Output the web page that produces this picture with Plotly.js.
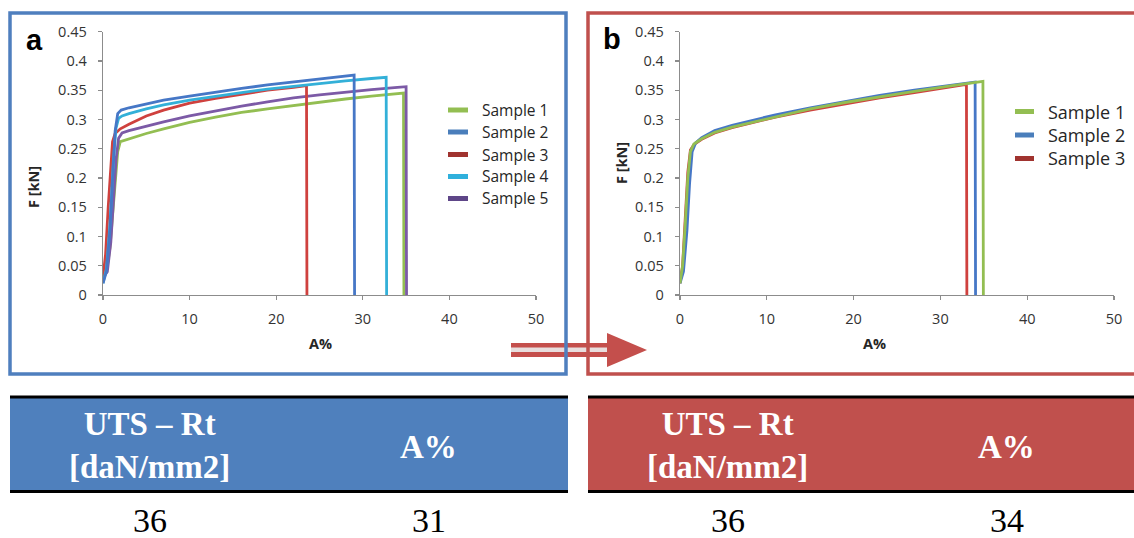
<!DOCTYPE html>
<html>
<head>
<meta charset="utf-8">
<script src="https://cdn.plot.ly/plotly-3.0.1.min.js"></script>
<style>
html,body{margin:0;padding:0;background:#fff;}
#chart{width:1134px;height:538px;}
</style>
</head>
<body>
<div id="chart"></div>
<script>
// ---------- DATA ----------
// Panel a (five samples): elongation A% and force F [kN]
const a_s1_A = [0, 0.4, 0.8, 1.1, 1.4, 1.7, 2.0, 3, 5, 7, 10, 13, 16, 19, 22, 25, 28, 31, 34, 34.7, 34.75];
const a_s1_F = [0.03, 0.04, 0.08, 0.14, 0.2, 0.245, 0.262, 0.267, 0.276, 0.284, 0.295, 0.304, 0.312, 0.318, 0.324, 0.330, 0.335, 0.340, 0.344, 0.345, 0];
const a_s2_A = [0, 0.4, 0.8, 1.1, 1.4, 1.7, 2.1, 3, 5, 7, 10, 13, 16, 19, 22, 25, 27, 28.5, 29.0, 29.05];
const a_s2_F = [0.02, 0.04, 0.11, 0.2, 0.28, 0.31, 0.316, 0.320, 0.327, 0.333, 0.340, 0.347, 0.353, 0.359, 0.364, 0.369, 0.373, 0.376, 0.376, 0];
const a_s3_A = [0, 0.3, 0.6, 0.9, 1.1, 1.4, 2, 3, 5, 7, 10, 13, 16, 19, 22, 23.5, 23.55];
const a_s3_F = [0.03, 0.07, 0.15, 0.23, 0.262, 0.276, 0.284, 0.292, 0.306, 0.316, 0.328, 0.336, 0.343, 0.350, 0.355, 0.358, 0];
const a_s4_A = [0, 0.4, 0.8, 1.2, 1.5, 1.8, 2.2, 3, 5, 7, 10, 13, 16, 19, 22, 25, 28, 31, 32.7, 32.75];
const a_s4_F = [0.02, 0.045, 0.12, 0.23, 0.285, 0.302, 0.306, 0.310, 0.318, 0.325, 0.333, 0.340, 0.346, 0.352, 0.357, 0.362, 0.366, 0.370, 0.372, 0];
const a_s5_A = [0, 0.5, 0.9, 1.2, 1.5, 1.8, 2.2, 3, 5, 7, 10, 13, 16, 19, 22, 25, 28, 31, 34, 35.0, 35.05];
const a_s5_F = [0.03, 0.04, 0.09, 0.16, 0.23, 0.268, 0.277, 0.281, 0.289, 0.296, 0.306, 0.315, 0.323, 0.330, 0.337, 0.342, 0.347, 0.351, 0.355, 0.356, 0];

// Panel b (three samples)
const b_s1_A = [0, 0.3, 0.6, 0.9, 1.2, 1.6, 2.5, 4, 6, 8, 11, 15, 19, 23, 27, 31, 33, 34.6, 34.9, 34.95];
const b_s1_F = [0.02, 0.05, 0.12, 0.2, 0.245, 0.258, 0.267, 0.278, 0.287, 0.294, 0.305, 0.318, 0.329, 0.339, 0.348, 0.357, 0.361, 0.365, 0.365, 0];
const b_s2_A = [0, 0.4, 0.8, 1.1, 1.4, 1.8, 2.5, 4, 6, 8, 11, 15, 19, 23, 27, 31, 33.5, 34.0, 34.05];
const b_s2_F = [0.02, 0.04, 0.11, 0.19, 0.245, 0.26, 0.269, 0.281, 0.290, 0.297, 0.308, 0.320, 0.331, 0.341, 0.350, 0.358, 0.364, 0.364, 0];
const b_s3_A = [0, 0.3, 0.6, 0.9, 1.2, 1.6, 2.5, 4, 6, 8, 11, 15, 19, 23, 27, 31, 33.0, 33.05];
const b_s3_F = [0.02, 0.05, 0.13, 0.21, 0.248, 0.257, 0.266, 0.277, 0.286, 0.293, 0.304, 0.316, 0.327, 0.337, 0.346, 0.355, 0.360, 0];

const a_names = ["Sample 1", "Sample 2", "Sample 3", "Sample 4", "Sample 5"];
const b_names = ["Sample 1", "Sample 2", "Sample 3"];

const xTickVals = [0, 10, 20, 30, 40, 50];
const xTickText = ["0", "10", "20", "30", "40", "50"];
const yTickVals = [0, 0.05, 0.1, 0.15, 0.2, 0.25, 0.3, 0.35, 0.4, 0.45];
const yTickText = ["0", "0.05", "0.1", "0.15", "0.2", "0.25", "0.3", "0.35", "0.4", "0.45"];

// Summary table
const tableHeaders = ["UTS – Rt<br>[daN/mm2]", "A%"];
const a_table = ["36", "31"];
const b_table = ["36", "34"];

// ---------- STYLE ----------
const W = 1134, H = 538;
const px = x => x / W;
const py = y => 1 - y / H;

const cGreen = "#93BE52", cBlue = "#4677C6", cRed = "#CF413E", cCyan = "#33B0D8", cPurple = "#7C5AA6";
const legA = ["#93BE52", "#4A7EBB", "#A0332F", "#2FB0DC", "#5E4688"];
const legB = ["#93BE52", "#4A7EBB", "#A0332F"];
const frameBlue = "#4F7FBE", frameRed = "#C0504D";
const tickFont = {family: "Open Sans, sans-serif", size: 14.5, color: "#333333"};

function tr(x, y, color, ax, ay, name) {
  return {x: x, y: y, type: "scatter", mode: "lines", name: name,
          line: {color: color, width: 2.8}, xaxis: ax, yaxis: ay,
          showlegend: false, hoverinfo: "skip"};
}

const data = [
  tr(a_s1_A, a_s1_F, cGreen, "x", "y", a_names[0]),
  tr(a_s5_A, a_s5_F, cPurple, "x", "y", a_names[4]),
  tr(a_s3_A, a_s3_F, cRed, "x", "y", a_names[2]),
  tr(a_s4_A, a_s4_F, cCyan, "x", "y", a_names[3]),
  tr(a_s2_A, a_s2_F, cBlue, "x", "y", a_names[1]),
  tr(b_s3_A, b_s3_F, cRed, "x2", "y2", b_names[2]),
  tr(b_s2_A, b_s2_F, cBlue, "x2", "y2", b_names[1]),
  tr(b_s1_A, b_s1_F, cGreen, "x2", "y2", b_names[0])
];

function xax(domain, anchor) {
  return {domain: domain, anchor: anchor, range: [0, 50], showgrid: false, zeroline: false,
          showline: true, linecolor: "#8C8C8C", linewidth: 1.3, ticks: "outside", ticklen: 4,
          tickcolor: "#8C8C8C", tickwidth: 1.3, tickvals: xTickVals, ticktext: xTickText,
          tickfont: tickFont, ticklabelstandoff: 6, fixedrange: true};
}
function yax(domain, anchor) {
  return {domain: domain, anchor: anchor, range: [0, 0.45], showgrid: false, zeroline: false,
          showline: true, linecolor: "#8C8C8C", linewidth: 1.3, ticks: "outside", ticklen: 4,
          tickcolor: "#8C8C8C", tickwidth: 1.3, tickvals: yTickVals, ticktext: yTickText,
          tickfont: tickFont, ticklabelstandoff: 8, fixedrange: true};
}

const yDom = [py(295), py(31.7)];
const shapes = [];
const annotations = [];

// Arrow (drawn first so frames overlay it)
shapes.push({type: "rect", xref: "paper", yref: "paper", x0: px(511), x1: px(611), y0: py(357), y1: py(343),
             fillcolor: "#C44F4C", line: {width: 0}});
shapes.push({type: "rect", xref: "paper", yref: "paper", x0: px(511), x1: px(609), y0: py(352), y1: py(347.5),
             fillcolor: "#E8DEDE", line: {width: 0}});
shapes.push({type: "path", xref: "paper", yref: "paper",
             path: `M ${px(607)} ${py(333)} L ${px(647)} ${py(350)} L ${px(607)} ${py(367)} Z`,
             fillcolor: "#C44F4C", line: {width: 0}});

// Frames
shapes.push({type: "rect", xref: "paper", yref: "paper", x0: px(10), x1: px(566), y0: py(374), y1: py(13),
             line: {color: frameBlue, width: 3.5}, fillcolor: "rgba(0,0,0,0)"});
shapes.push({type: "rect", xref: "paper", yref: "paper", x0: px(588), x1: px(1145), y0: py(374), y1: py(13),
             line: {color: frameRed, width: 3.5}, fillcolor: "rgba(0,0,0,0)"});

// Legends
const legARows = [110, 132, 154.5, 176.5, 198.5];
a_names.forEach((n, i) => {
  shapes.push({type: "line", xref: "paper", yref: "paper", x0: px(448), x1: px(468), y0: py(legARows[i]), y1: py(legARows[i]),
               line: {color: legA[i], width: 5}});
  annotations.push({xref: "paper", yref: "paper", x: px(480), y: py(legARows[i]), xanchor: "left", yanchor: "middle",
                    text: n, showarrow: false, font: {family: "Open Sans, sans-serif", size: 15.5, color: "#262626"}});
});
const legBRows = [111.5, 135, 158.5];
b_names.forEach((n, i) => {
  shapes.push({type: "line", xref: "paper", yref: "paper", x0: px(1015), x1: px(1034), y0: py(legBRows[i]), y1: py(legBRows[i]),
               line: {color: legB[i], width: 5}});
  annotations.push({xref: "paper", yref: "paper", x: px(1046), y: py(legBRows[i]), xanchor: "left", yanchor: "middle",
                    text: n, showarrow: false, font: {family: "Open Sans, sans-serif", size: 18, color: "#262626"}});
});

// Panel letters
annotations.push({xref: "paper", yref: "paper", x: px(34), y: py(40), xanchor: "center", yanchor: "middle", text: "a",
                  showarrow: false, font: {family: "Liberation Sans, Arial, sans-serif", size: 29, color: "#000", weight: "bold"}});
annotations.push({xref: "paper", yref: "paper", x: px(612), y: py(39), xanchor: "center", yanchor: "middle", text: "b",
                  showarrow: false, font: {family: "Liberation Sans, Arial, sans-serif", size: 29, color: "#000", weight: "bold"}});

// Axis titles
const axTitleFont = {family: "Open Sans, sans-serif", size: 14.5, color: "#262626", weight: "bold"};
annotations.push({xref: "paper", yref: "paper", x: px(33), y: py(187), textangle: -90, xanchor: "center", yanchor: "middle",
                  text: "F [kN]", showarrow: false, font: axTitleFont});
annotations.push({xref: "paper", yref: "paper", x: px(622), y: py(163), textangle: -90, xanchor: "center", yanchor: "middle",
                  text: "F [kN]", showarrow: false, font: axTitleFont});
annotations.push({xref: "paper", yref: "paper", x: px(320), y: py(343), xanchor: "center", yanchor: "middle",
                  text: "A%", showarrow: false, font: axTitleFont});
annotations.push({xref: "paper", yref: "paper", x: px(874), y: py(343), xanchor: "center", yanchor: "middle",
                  text: "A%", showarrow: false, font: axTitleFont});

// Tables
function table(x0, x1, fill, vals) {
  shapes.push({type: "rect", xref: "paper", yref: "paper", x0: px(x0), x1: px(x1), y0: py(492), y1: py(396),
               fillcolor: fill, line: {width: 0}});
  shapes.push({type: "line", xref: "paper", yref: "paper", x0: px(x0), x1: px(x1), y0: py(397), y1: py(397),
               line: {color: "#000", width: 3}});
  shapes.push({type: "line", xref: "paper", yref: "paper", x0: px(x0), x1: px(x1), y0: py(491.5), y1: py(491.5),
               line: {color: "#000", width: 3}});
  const cw = 558;
  const centers = [x0 + cw * 0.25, x0 + cw * 0.75];
  const hy = [445.5, 447];
  tableHeaders.forEach((h, i) => {
    annotations.push({xref: "paper", yref: "paper", x: px(centers[i]), y: py(hy[i]), xanchor: "center", yanchor: "middle",
                      text: h, showarrow: false,
                      font: {family: "Liberation Serif, Times New Roman, serif", size: 33, color: "#FFFFFF", weight: "bold"}});
  });
  vals.forEach((v, i) => {
    annotations.push({xref: "paper", yref: "paper", x: px(centers[i]), y: py(520), xanchor: "center", yanchor: "middle",
                      text: v, showarrow: false,
                      font: {family: "Liberation Serif, Times New Roman, serif", size: 34, color: "#000000"}});
  });
}
table(10, 568, "#4F80BD", a_table);
table(588, 1146, "#C0504D", b_table);

const layout = {
  width: W, height: H,
  margin: {l: 0, r: 0, t: 0, b: 0},
  paper_bgcolor: "#FFFFFF", plot_bgcolor: "rgba(0,0,0,0)",
  showlegend: false,
  xaxis: xax([px(103), px(536)], "y"),
  yaxis: yax(yDom, "x"),
  xaxis2: xax([px(680), px(1114)], "y2"),
  yaxis2: yax(yDom, "x2"),
  shapes: shapes,
  annotations: annotations
};

Plotly.newPlot("chart", data, layout, {displayModeBar: false, staticPlot: true});
</script>
</body>
</html>
